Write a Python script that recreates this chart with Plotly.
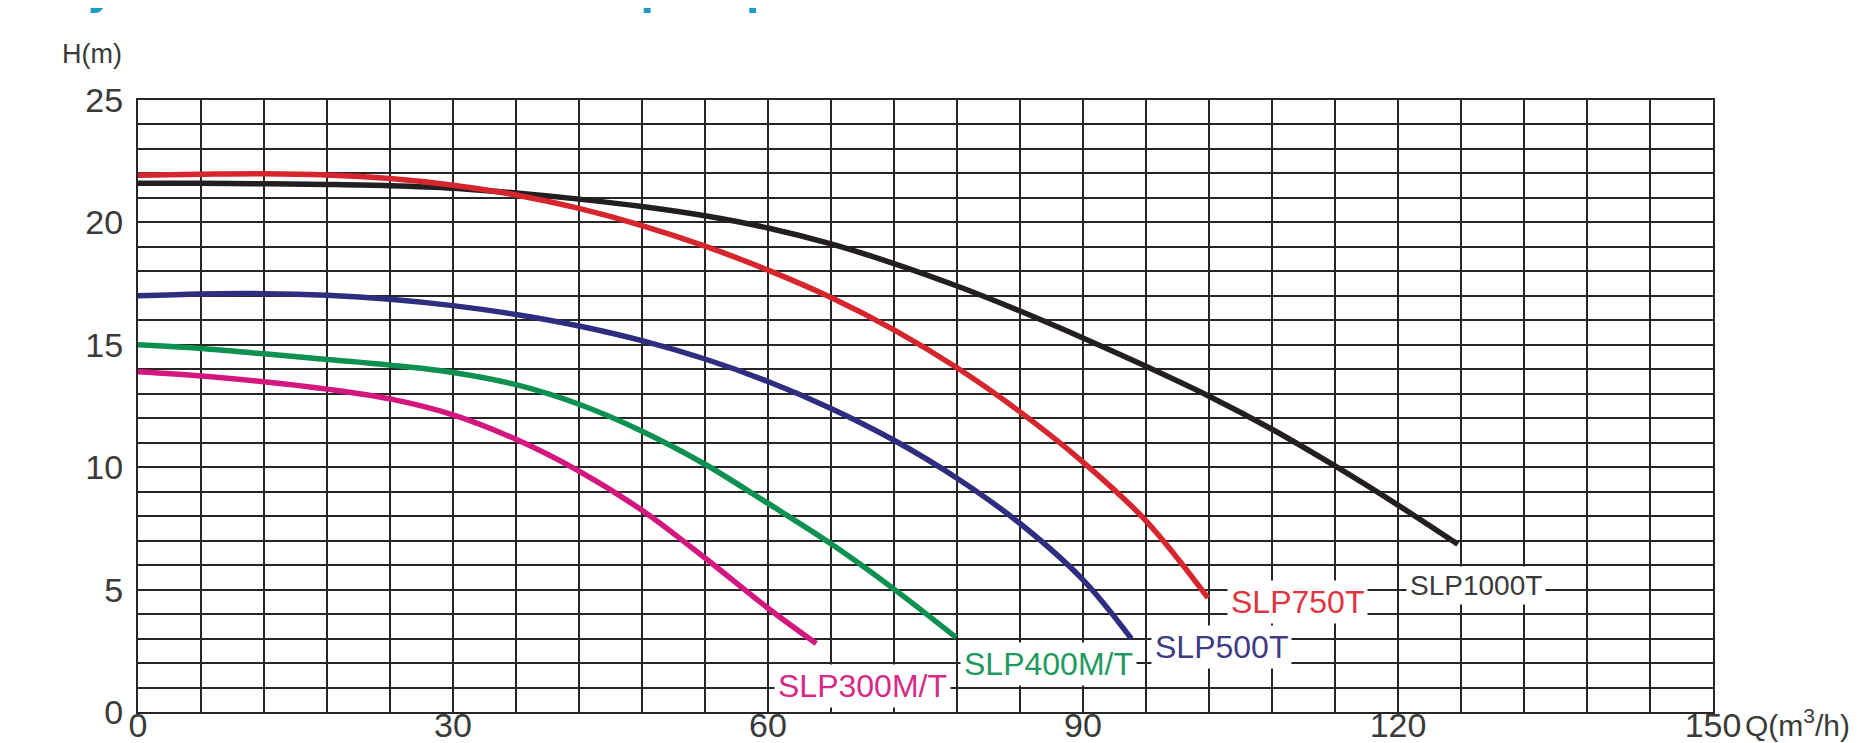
import plotly.graph_objects as go

# ---- data ----
q_1000 = [0, 6, 12, 18, 24, 30, 36, 42, 48, 54, 60, 66, 72, 78, 84, 90, 96, 102, 108, 114, 120, 125.7]
h_1000 = [21.6, 21.6, 21.58, 21.55, 21.5, 21.4, 21.2, 20.95, 20.65, 20.27, 19.77, 19.12, 18.32, 17.4, 16.38, 15.28, 14.12, 12.9, 11.55, 10.05, 8.45, 6.85]

q_750 = [0, 6, 12, 18, 24, 30, 36, 42, 48, 54, 60, 66, 72, 78, 84, 90, 96, 101.9]
h_750 = [21.93, 21.97, 21.99, 21.94, 21.79, 21.52, 21.12, 20.57, 19.87, 19.03, 18.05, 16.93, 15.61, 14.06, 12.26, 10.21, 7.81, 4.66]

q_500 = [0, 6, 12, 18, 24, 30, 36, 42, 48, 54, 60, 66, 72, 78, 84, 90, 94.6]
h_500 = [17.0, 17.08, 17.09, 17.02, 16.86, 16.6, 16.24, 15.77, 15.17, 14.42, 13.5, 12.4, 11.1, 9.55, 7.7, 5.4, 3.0]

q_400 = [0, 6, 12, 18, 24, 30, 36, 42, 48, 54, 60, 66, 72, 77.9]
h_400 = [15.0, 14.85, 14.63, 14.4, 14.17, 13.87, 13.37, 12.57, 11.47, 10.12, 8.52, 6.87, 5.02, 3.05]

q_300 = [0, 6, 12, 18, 24, 30, 36, 42, 48, 54, 60, 64.6]
h_300 = [13.9, 13.73, 13.49, 13.19, 12.79, 12.14, 11.14, 9.84, 8.24, 6.29, 4.24, 2.8]

series_names = ["SLP1000T", "SLP750T", "SLP500T", "SLP400M/T", "SLP300M/T"]
series_q = [q_1000, q_750, q_500, q_400, q_300]
series_h = [h_1000, h_750, h_500, h_400, h_300]
line_colors = ["#231f20", "#d7252d", "#2e2d80", "#0c9150", "#d4177f"]
label_colors = ["#3a3a3a", "#e0343e", "#3d3c85", "#1f9a5e", "#d62a88"]
label_sizes = [28, 32, 32, 32, 32]
label_x = [127.4, 110.4, 103.2, 86.7, 69.0]
label_y = [5.15, 4.5, 2.65, 1.95, 1.05]

x_ticks = [0, 30, 60, 90, 120, 150]
y_ticks = [0, 5, 10, 15, 20, 25]

FONT = "Liberation Sans, Arial, Helvetica, sans-serif"
GRID = "#262626"

fig = go.Figure()
for name, q, h, c in zip(series_names, series_q, series_h, line_colors):
    fig.add_trace(go.Scatter(x=q, y=h, mode="lines", name=name,
                             line=dict(color=c, width=5.5, shape="spline", smoothing=1.0),
                             showlegend=False, hoverinfo="skip"))

for name, lx, ly, c, s in zip(series_names, label_x, label_y, label_colors, label_sizes):
    fig.add_annotation(x=lx, y=ly, xref="x", yref="y", text=name, showarrow=False,
                       font=dict(family=FONT, size=s, color=c),
                       bgcolor="white", borderpad=3)

fig.add_annotation(x=0, y=1, xref="paper", yref="paper", text="H(m)", showarrow=False,
                   xanchor="center", yanchor="bottom", xshift=-46, yshift=29,
                   font=dict(family=FONT, size=27, color="#3a3a3a"))
fig.add_annotation(x=1, y=0, xref="paper", yref="paper", text="Q(m<sup>3</sup>/h)", showarrow=False,
                   xanchor="left", yanchor="top", xshift=30, yshift=10,
                   font=dict(family=FONT, size=30, color="#3a3a3a"))
fig.add_annotation(x=0, y=1, xref="paper", yref="paper", text="<b>Hydraulic curves of SLP pump</b>",
                   showarrow=False, xanchor="left", yanchor="bottom", xshift=-88, yshift=84,
                   font=dict(family=FONT, size=50, color="#1d9bc6"))

axis_common = dict(showline=True, linecolor=GRID, linewidth=2, mirror=True,
                   showgrid=True, gridcolor=GRID, gridwidth=2, zeroline=False,
                   ticks="", automargin=False,
                   tickfont=dict(family=FONT, size=34, color="#3a3a3a"))

fig.update_xaxes(range=[0, 150], tickmode="array", tickvals=x_ticks,
                 ticktext=[str(v) for v in x_ticks],
                 minor=dict(dtick=6, tick0=0, showgrid=True, gridcolor=GRID, gridwidth=2),
                 ticklabelstandoff=-18,
                 **axis_common)
fig.update_yaxes(range=[0, 25], tickmode="array", tickvals=y_ticks,
                 ticktext=[str(v) for v in y_ticks],
                 minor=dict(dtick=1, tick0=0, showgrid=True, gridcolor=GRID, gridwidth=2),
                 ticklabelstandoff=6,
                 **axis_common)

fig.update_layout(width=1860, height=743, plot_bgcolor="white", paper_bgcolor="white",
                  margin=dict(l=130, r=155, t=92, b=39), showlegend=False)

fig.write_html("out.html")
